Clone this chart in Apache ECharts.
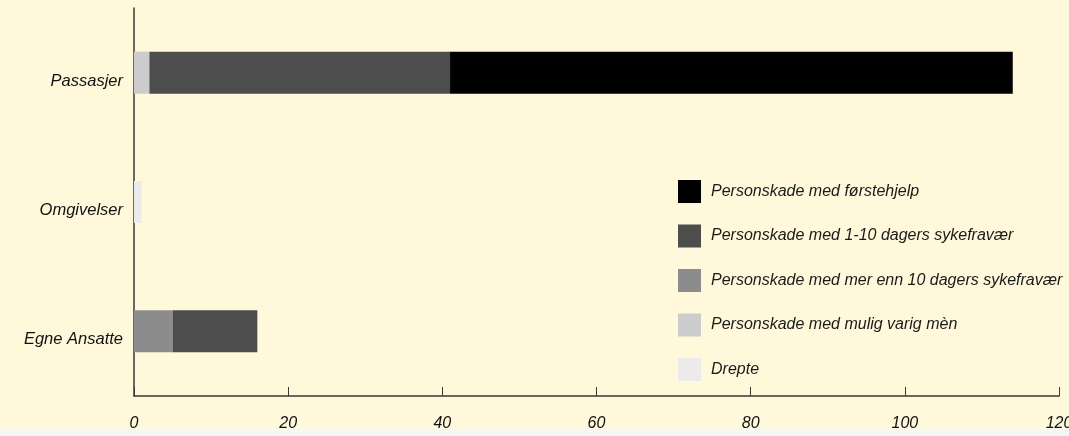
<!DOCTYPE html>
<html>
<head>
<meta charset="utf-8">
<script src="https://cdn.jsdelivr.net/npm/echarts@6/dist/echarts.min.js"></script>
<style>
  html, body { margin: 0; padding: 0; background: #FFF8DA; }
  #chart { width: 1069px; height: 436px; }
</style>
</head>
<body>
<div id="chart"></div>
<script>
// Categories, bottom to top on the vertical axis
const categories = ['Egne Ansatte', 'Omgivelser', 'Passasjer'];

// Injury counts per category (same order as categories)
const drepte = [0, 1, 0];
const muligVarigMen = [0, 0, 2];
const merEnn10Dager = [5, 0, 0];
const dager1til10 = [11, 0, 39];
const forstehjelp = [0, 0, 73];

const seriesNames = [
  'Drepte',
  'Personskade med mulig varig mèn',
  'Personskade med mer enn 10 dagers sykefravær',
  'Personskade med 1-10 dagers sykefravær',
  'Personskade med førstehjelp'
];
const seriesValues = [drepte, muligVarigMen, merEnn10Dager, dager1til10, forstehjelp];
const seriesColors = ['#ebebeb', '#cccccc', '#8c8c8c', '#4d4d4d', '#000000'];

const xTicks = { min: 0, max: 120, interval: 20 };

const font = '"Liberation Sans", Arial, sans-serif';

const chart = echarts.init(document.getElementById('chart'), null, { renderer: 'canvas' });

chart.setOption({
  backgroundColor: '#FFF8DA',
  animation: false,
  textStyle: { fontFamily: font },
  grid: { left: 134, top: 8, right: 10, bottom: 40, containLabel: false, outerBoundsMode: 'none' },
  legend: {
    orient: 'vertical',
    left: 673,
    top: 175,
    itemWidth: 23,
    itemHeight: 23,
    itemGap: 21.5,
    icon: 'rect',
    data: seriesNames.slice().reverse(),
    textStyle: {
      fontFamily: font,
      fontStyle: 'italic',
      fontSize: 16,
      color: '#1a1a1a',
      padding: [0, 0, 0, 5]
    }
  },
  xAxis: {
    type: 'value',
    min: xTicks.min,
    max: xTicks.max,
    interval: xTicks.interval,
    splitLine: { show: false },
    axisLine: { show: true, lineStyle: { color: '#3a3a30', width: 1.5 } },
    axisTick: { show: true, inside: true, length: 9, lineStyle: { color: '#3a3a30', width: 1 } },
    axisLabel: {
      fontFamily: font,
      fontStyle: 'italic',
      fontSize: 16,
      color: '#111',
      margin: 20
    }
  },
  yAxis: {
    type: 'category',
    data: categories,
    axisLine: { show: true, lineStyle: { color: '#3a3a30', width: 1.5 } },
    axisTick: { show: false },
    axisLabel: {
      fontFamily: font,
      fontStyle: 'italic',
      fontSize: 16.5,
      color: '#111',
      margin: 11,
      verticalAlign: 'top'
    }
  },
  graphic: [{
    type: 'rect',
    z: -10,
    silent: true,
    shape: { x: 0, y: 427, width: 1069, height: 9 },
    style: {
      fill: new echarts.graphic.LinearGradient(0, 0, 0, 1, [
        { offset: 0, color: 'rgba(250,250,248,0)' },
        { offset: 0.4, color: 'rgba(247,247,245,1)' },
        { offset: 1, color: 'rgba(245,245,245,1)' }
      ])
    }
  }],
  series: seriesNames.map((name, i) => ({
    name: name,
    type: 'bar',
    stack: 'total',
    barWidth: 42,
    itemStyle: { color: seriesColors[i] },
    data: seriesValues[i]
  }))
});
</script>
</body>
</html>
